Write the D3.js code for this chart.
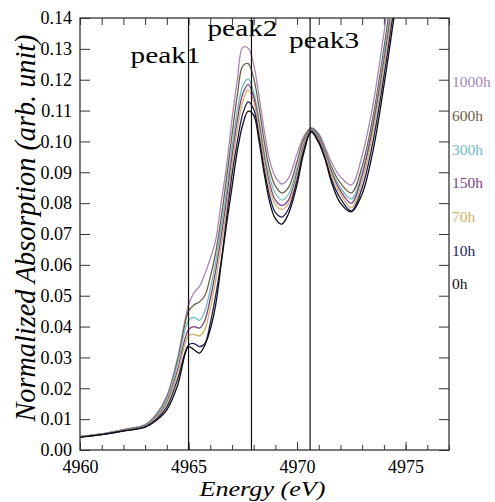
<!DOCTYPE html>
<html>
<head>
<meta charset="utf-8">
<script src="https://cdn.jsdelivr.net/npm/d3@7"></script>
<style>
  body { margin: 0; background: #fff; }
  svg { display: block; }
</style>
</head>
<body>
<div id="chart"></div>
<script>
// energy grid (eV) and normalized absorption
var energy = [4960, 4961, 4962, 4963, 4963.5, 4964, 4964.5, 4965, 4965.25, 4965.5, 4965.75, 4966, 4966.25, 4966.5, 4966.75, 4967, 4967.25, 4967.5, 4967.75, 4968, 4968.25, 4968.5, 4968.75, 4969, 4969.3, 4969.6, 4970, 4970.3, 4970.65, 4971, 4971.3, 4971.6, 4972, 4972.5, 4973, 4973.5, 4974, 4974.5];

var h1000 = [0.0043, 0.0052, 0.0066, 0.0082, 0.0115, 0.0175, 0.030, 0.047, 0.051, 0.053, 0.057, 0.062, 0.068, 0.080, 0.092, 0.107, 0.120, 0.1305, 0.1302, 0.125, 0.1145, 0.103, 0.0935, 0.0885, 0.0862, 0.088, 0.096, 0.1015, 0.1045, 0.1025, 0.098, 0.093, 0.0885, 0.0859, 0.0955, 0.112, 0.135, 0.160];
var h600 = [0.0043, 0.0052, 0.0066, 0.0081, 0.0112, 0.017, 0.029, 0.045, 0.047, 0.048, 0.050, 0.056, 0.064, 0.075, 0.088, 0.102, 0.115, 0.1245, 0.1252, 0.1205, 0.111, 0.0995, 0.0905, 0.0855, 0.0833, 0.085, 0.0935, 0.1005, 0.1042, 0.102, 0.097, 0.0915, 0.0865, 0.0833, 0.092, 0.108, 0.130, 0.155];
var h300 = [0.0043, 0.0052, 0.0065, 0.008, 0.011, 0.0165, 0.028, 0.042, 0.043, 0.042, 0.045, 0.052, 0.061, 0.072, 0.084, 0.098, 0.110, 0.118, 0.1203, 0.116, 0.107, 0.096, 0.088, 0.0832, 0.081, 0.0828, 0.0915, 0.099, 0.104, 0.1015, 0.0965, 0.0905, 0.085, 0.0813, 0.090, 0.106, 0.128, 0.152];
var h150 = [0.0043, 0.0051, 0.0064, 0.0078, 0.0105, 0.0155, 0.026, 0.039, 0.040, 0.0395, 0.042, 0.049, 0.058, 0.069, 0.081, 0.095, 0.107, 0.1155, 0.1185, 0.1145, 0.1055, 0.0945, 0.086, 0.081, 0.0793, 0.081, 0.090, 0.0985, 0.1037, 0.101, 0.096, 0.0898, 0.084, 0.0800, 0.089, 0.105, 0.126, 0.150];
var h70 = [0.0043, 0.0051, 0.0063, 0.0077, 0.0102, 0.015, 0.025, 0.037, 0.0375, 0.037, 0.039, 0.046, 0.055, 0.066, 0.078, 0.092, 0.104, 0.113, 0.1168, 0.113, 0.104, 0.093, 0.0845, 0.0795, 0.078, 0.0798, 0.089, 0.098, 0.1035, 0.1005, 0.0955, 0.089, 0.083, 0.0785, 0.087, 0.103, 0.124, 0.148];
var h10 = [0.0042, 0.005, 0.0062, 0.0075, 0.0098, 0.014, 0.023, 0.034, 0.0345, 0.0335, 0.0345, 0.041, 0.050, 0.061, 0.075, 0.089, 0.100, 0.109, 0.1128, 0.1105, 0.1015, 0.0905, 0.082, 0.077, 0.0755, 0.078, 0.0875, 0.097, 0.1033, 0.100, 0.0945, 0.0875, 0.0815, 0.0775, 0.085, 0.100, 0.121, 0.145];
var h0 = [0.0042, 0.005, 0.0061, 0.0074, 0.0095, 0.013, 0.021, 0.0335, 0.0325, 0.0314, 0.034, 0.039, 0.047, 0.060, 0.073, 0.085, 0.097, 0.1055, 0.1098, 0.1085, 0.100, 0.089, 0.080, 0.075, 0.0732, 0.0765, 0.086, 0.096, 0.103, 0.0995, 0.094, 0.0865, 0.080, 0.0772, 0.083, 0.097, 0.118, 0.142];

var seriesNames = ["1000h", "600h", "300h", "150h", "70h", "10h", "0h"];
var seriesValues = [h1000, h600, h300, h150, h70, h10, h0];
var seriesColors = ["#a887b4", "#6f6040", "#6fbcc2", "#7e4282", "#d4b064", "#1e1e60", "#111111"];

var peakNames = ["peak1", "peak2", "peak3"];
var peakEnergy = [4965.0, 4967.9, 4970.6];

var xTickLabels = [4960, 4965, 4970, 4975];
var yTickLabels = [0, 0.01, 0.02, 0.03, 0.04, 0.05, 0.06, 0.07, 0.08, 0.09, 0.10, 0.11, 0.12, 0.13, 0.14];

(function(){
  var width = 495;
  var height = 502;
  var margin = {top: 18, right: 46, bottom: 52, left: 80};
  var font = "'Liberation Serif', 'Times New Roman', serif";

  var svg = d3.select("#chart")
    .append("svg")
      .attr("width", width)
      .attr("height", height)
      .style("background", "#fff");

  var x = d3.scaleLinear().domain([4960, 4977]).range([margin.left, width - margin.right]);
  var y = d3.scaleLinear().domain([0, 0.14]).range([height - margin.bottom, margin.top]);
  var minorTicks = d3.range(4960, 4978, 1);

  svg.append("clipPath").attr("id", "plot-clip")
    .append("rect")
      .attr("x", x.range()[0]).attr("y", y.range()[1])
      .attr("width", x.range()[1] - x.range()[0])
      .attr("height", y.range()[0] - y.range()[1]);

  //ticks on all four sides, pointing in
  function styleAxis(g) {
    g.select(".domain").remove();
    g.selectAll(".tick line").attr("stroke", "#333");
    g.selectAll(".tick text")
      .attr("fill", "#000")
      .style("font-family", font)
      .style("font-size", "18px");
  }

  svg.append("g")
    .attr("transform", "translate(" + x.range()[0] + ",0)")
    .call(d3.axisLeft(y).tickValues(yTickLabels).tickSize(-10).tickPadding(8).tickFormat(d3.format(".2f")))
    .call(styleAxis);

  svg.append("g")
    .attr("transform", "translate(" + x.range()[1] + ",0)")
    .call(d3.axisRight(y).tickValues(yTickLabels).tickSize(-10).tickFormat(""))
    .call(styleAxis);

  svg.append("g")
    .attr("transform", "translate(0," + y.range()[1] + ")")
    .call(d3.axisTop(x).tickValues(minorTicks).tickSize(-7).tickFormat(""))
    .call(styleAxis);

  svg.append("g")
    .attr("transform", "translate(0," + y.range()[0] + ")")
    .call(d3.axisBottom(x).tickValues(minorTicks).tickSize(-5).tickFormat(""))
    .call(styleAxis);

  svg.append("g")
    .attr("transform", "translate(0," + y.range()[0] + ")")
    .call(d3.axisBottom(x).tickValues(xTickLabels).tickSize(-8).tickPadding(10).tickFormat(d3.format("d")))
    .call(styleAxis);

  // frame
  svg.append("rect")
    .attr("x", x.range()[0]).attr("y", y.range()[1])
    .attr("width", x.range()[1] - x.range()[0])
    .attr("height", y.range()[0] - y.range()[1])
    .attr("fill", "none")
    .attr("stroke", "#333")
    .attr("stroke-width", 1.3);

  // spectra
  var line = d3.line()
    .curve(d3.curveCatmullRom.alpha(0.5))
    .x(function(d, i) { return x(energy[i]); })
    .y(function(d) { return y(d); });

  svg.append("g")
    .attr("clip-path", "url(#plot-clip)")
    .selectAll("path")
    .data(seriesValues)
    .enter().append("path")
      .attr("d", function(d) { return line(d); })
      .attr("fill", "none")
      .attr("stroke", function(d, i) { return seriesColors[i]; })
      .attr("stroke-width", 1.3);

  // peak markers
  svg.selectAll(".peak-line")
    .data(peakEnergy)
    .enter().append("line")
      .attr("class", "peak-line")
      .attr("x1", function(d) { return x(d); })
      .attr("x2", function(d) { return x(d); })
      .attr("y1", y.range()[1])
      .attr("y2", y.range()[0])
      .attr("stroke", "#111")
      .attr("stroke-width", 1.2);

  var peakDx = [-58, -44, -21];
  var peakY = [63, 36, 48];
  svg.selectAll(".peak-label")
    .data(peakNames)
    .enter().append("text")
      .attr("class", "peak-label")
      .attr("x", function(d, i) { return x(peakEnergy[i]) + peakDx[i]; })
      .attr("y", function(d, i) { return peakY[i]; })
      .style("font-family", font)
      .style("font-size", "23px")
      .attr("textLength", 70)
      .attr("lengthAdjust", "spacingAndGlyphs")
      .attr("fill", "#000")
      .text(function(d) { return d; });

  // series labels at the right
  var ly = d3.scalePoint().domain(seriesNames).range([82, 284]);
  svg.selectAll(".series-label")
    .data(seriesNames)
    .enter().append("text")
      .attr("class", "series-label")
      .attr("x", x.range()[1] + 3)
      .attr("y", function(d) { return ly(d); })
      .attr("dy", "0.35em")
      .style("font-family", font)
      .style("font-size", "15.5px")
      .attr("fill", function(d, i) { return seriesColors[i]; })
      .text(function(d) { return d; });

  // axis titles
  svg.append("text")
    .attr("x", 262.5)
    .attr("y", 496)
    .attr("text-anchor", "middle")
    .style("font-family", font)
    .style("font-style", "italic")
    .style("font-size", "21.5px")
    .attr("textLength", 126)
    .attr("lengthAdjust", "spacingAndGlyphs")
    .attr("fill", "#000")
    .text("Energy (eV)");

  svg.append("text")
    .attr("transform", "translate(35,228) rotate(-90)")
    .attr("text-anchor", "middle")
    .style("font-family", font)
    .style("font-style", "italic")
    .style("font-size", "30px")
    .attr("textLength", 387)
    .attr("lengthAdjust", "spacingAndGlyphs")
    .attr("fill", "#000")
    .text("Normalized Absorption (arb. unit)");
})();
</script>
</body>
</html>
